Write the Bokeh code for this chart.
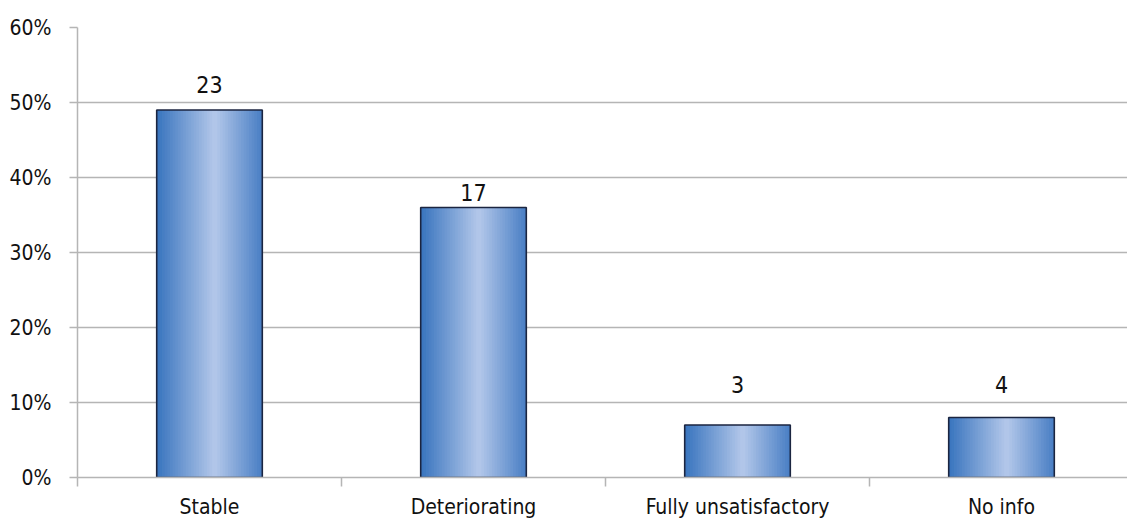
from bokeh.plotting import figure
from bokeh.models import FixedTicker, NumeralTickFormatter, ColumnDataSource, Range1d
from bokeh.core.properties import value
from bokeh.embed import file_html
from bokeh.resources import INLINE

categories = ["Stable", "Deteriorating", "Fully unsatisfactory", "No info"]
shares = [0.49, 0.36, 0.07, 0.08]          # bar heights (share of cases)
counts = [23, 17, 3, 4]                     # numbers shown above bars
label_pos = [0.513, 0.369, 0.113, 0.113]    # height of the count labels
y_ticks = [0, 0.1, 0.2, 0.3, 0.4, 0.5, 0.6]

FONT = "DejaVu Sans Condensed"
BAR_W = 0.4
N = 40
FRAME_W = 1050
CAT_PX = 264

# gradient stops (position across bar, rgb)
stops = [(0.0, (56, 116, 190)), (0.55, (180, 200, 234)), (1.0, (72, 126, 196))]

def grad(t):
    for (t0, c0), (t1, c1) in zip(stops[:-1], stops[1:]):
        if t0 <= t <= t1:
            f = (t - t0) / (t1 - t0)
            return "#%02x%02x%02x" % tuple(int(round(a + (b - a) * f)) for a, b in zip(c0, c1))
    return "#%02x%02x%02x" % stops[-1][1]

p = figure(frame_width=FRAME_W, frame_height=450, output_backend="svg", toolbar_location=None,
           x_range=Range1d(0, FRAME_W / CAT_PX), y_range=Range1d(0, 0.6),
           min_border_left=77, min_border_top=27, min_border_right=0, min_border_bottom=0)
p.outline_line_color = None
p.background_fill_color = "white"

# gradient strips (each overlaps the next to avoid seams)
L, R, T, C = [], [], [], []
for i, v in enumerate(shares):
    x0 = i + 0.5 - BAR_W / 2
    sw = BAR_W / N
    for k in range(N):
        L.append(x0 + sw * k)
        R.append(x0 + sw * min(k + 2, N))
        T.append(v)
        C.append(grad((k + 0.5) / N))
p.quad(left=L, right=R, bottom=0, top=T, fill_color=C, line_color=None)

src = ColumnDataSource(dict(x=[i + 0.5 for i in range(len(categories))], top=shares,
                            lp=label_pos, txt=[str(c) for c in counts]))
p.vbar(x="x", top="top", bottom=0, width=BAR_W, source=src, fill_alpha=0,
       line_color="#1b2540", line_width=1.6)
p.text(x="x", y="lp", text="txt", source=src, text_align="center", text_baseline="alphabetic",
       y_offset=-8, text_font=value(FONT), text_font_size="23px", text_color="#111111")

# axes
p.yaxis.ticker = FixedTicker(ticks=y_ticks)
p.yaxis.formatter = NumeralTickFormatter(format="0%")
p.yaxis.major_tick_out = 8
p.yaxis.major_tick_in = 0
p.yaxis.minor_tick_out = 0
p.yaxis.minor_tick_in = 0
p.yaxis.axis_line_color = "#b5b5b5"
p.yaxis.axis_line_width = 1.5
p.yaxis.major_tick_line_color = "#b5b5b5"
p.yaxis.major_tick_line_width = 1.5
p.yaxis.major_label_text_font = FONT
p.yaxis.major_label_text_font_size = "21px"
p.yaxis.major_label_text_color = "#111111"
p.yaxis.major_label_standoff = 18

p.xaxis.ticker = FixedTicker(ticks=[i + 0.5 for i in range(len(categories))],
                             minor_ticks=[0, 1, 2, 3, 4])
p.xaxis.major_label_overrides = {i + 0.5: c for i, c in enumerate(categories)}
p.xaxis.major_tick_out = 0
p.xaxis.major_tick_in = 0
p.xaxis.minor_tick_out = 9
p.xaxis.minor_tick_in = 0
p.xaxis.minor_tick_line_color = "#b5b5b5"
p.xaxis.minor_tick_line_width = 1.5
p.xaxis.axis_line_color = "#b5b5b5"
p.xaxis.axis_line_width = 1.5
p.xaxis.major_label_text_font = FONT
p.xaxis.major_label_text_font_size = "21px"
p.xaxis.major_label_text_color = "#111111"
p.xaxis.major_label_standoff = 8

p.xgrid.grid_line_color = None
p.ygrid.ticker = FixedTicker(ticks=y_ticks)
p.ygrid.grid_line_color = "#b5b5b5"
p.ygrid.grid_line_width = 1.5

open("out.html", "w").write(file_html(p, INLINE))
